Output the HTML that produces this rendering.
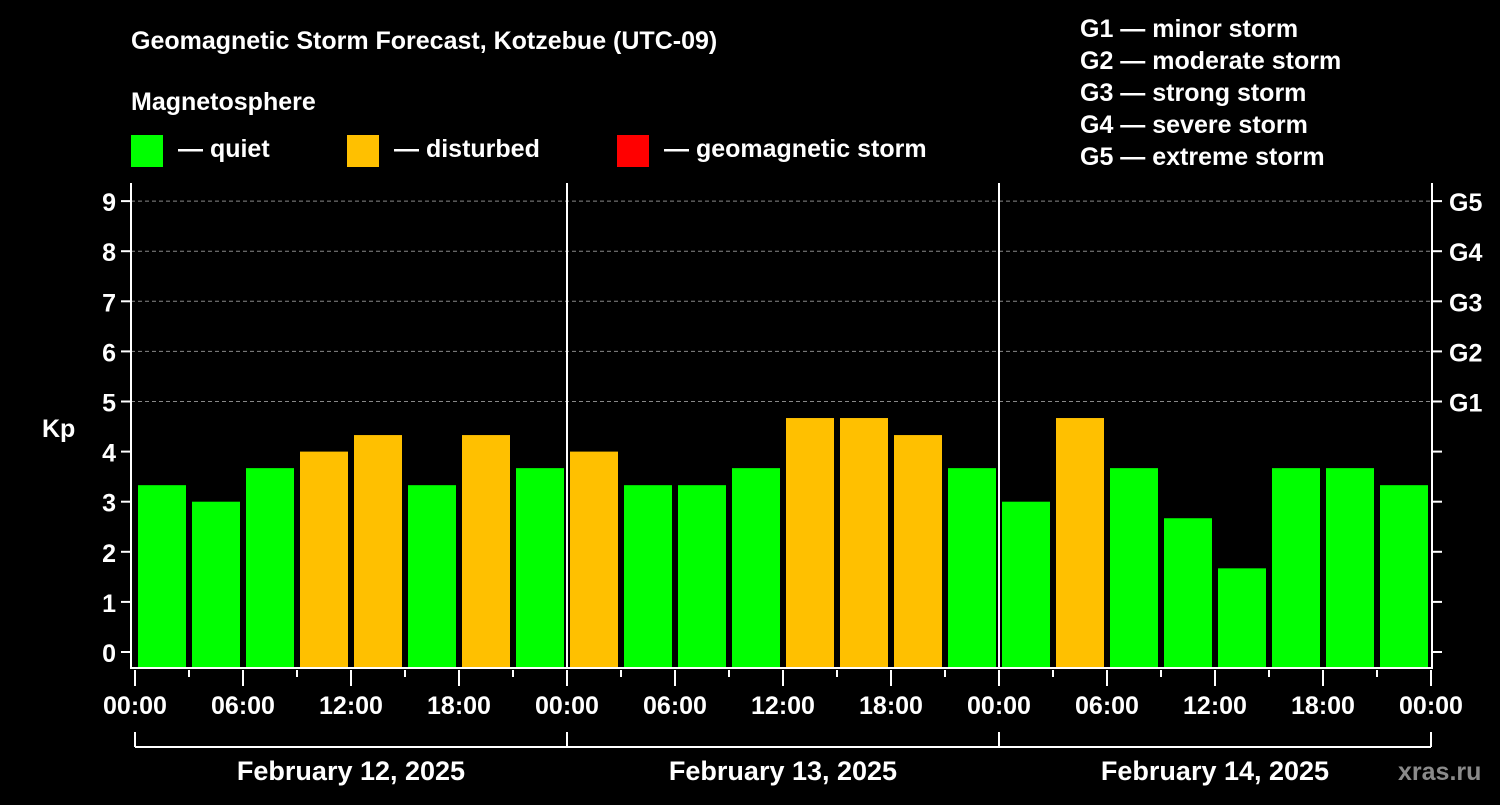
<!DOCTYPE html>
<html><head><meta charset="utf-8"><style>
body{margin:0;background:#000;width:1500px;height:800px;overflow:hidden;font-family:"Liberation Sans",sans-serif}
svg text{font-family:"Liberation Sans",sans-serif;font-weight:bold;fill:#fff}
</style></head><body>
<svg id="c" width="1500" height="800">
<text x="131" y="49" font-size="25">Geomagnetic Storm Forecast, Kotzebue (UTC-09)</text>
<text x="131" y="110" font-size="25">Magnetosphere</text>
<g><rect x="131" y="135" width="32" height="32" fill="#00ff00"/><text x="178" y="157" font-size="25">— quiet</text></g>
<g><rect x="347" y="135" width="32" height="32" fill="#ffc000"/><text x="394" y="157" font-size="25">— disturbed</text></g>
<g><rect x="617" y="135" width="32" height="32" fill="#ff0000"/><text x="664" y="157" font-size="25">— geomagnetic storm</text></g>
<g font-size="25">
<text x="1080" y="37">G1 — minor storm</text>
<text x="1080" y="69">G2 — moderate storm</text>
<text x="1080" y="101">G3 — strong storm</text>
<text x="1080" y="133">G4 — severe storm</text>
<text x="1080" y="165">G5 — extreme storm</text>
</g>
<text x="42" y="437" font-size="25">Kp</text>
<text x="1398" y="780" font-size="25" fill="#888" style="fill:#8a8a8a">xras.ru</text>
<g id="g"></g>
</svg>
<script>
const kpValues=[3.33,3.0,3.67,4.0,4.33,3.33,4.33,3.67, 4.0,3.33,3.33,3.67,4.67,4.67,4.33,3.67, 3.0,4.67,3.67,2.67,1.67,3.67,3.67,3.33];
const yTicks=[0,1,2,3,4,5,6,7,8,9];
const gLabels=["G1","G2","G3","G4","G5"];
const xLabels=["00:00","06:00","12:00","18:00","00:00","06:00","12:00","18:00","00:00","06:00","12:00","18:00","00:00"];
const dayLabels=["February 12, 2025","February 13, 2025","February 14, 2025"];
const NS="http://www.w3.org/2000/svg";
const g=document.getElementById('g');
const X0=135,PX_H=18,Y0=652,PX_K=50.1,TOP=183,BOT=668,L=131,R=1432;
const xs=h=>X0+h*PX_H, ys=k=>Y0-k*PX_K;
function mk(t,a,p){const e=document.createElementNS(NS,t);for(const k in a)e.setAttribute(k,a[k]);(p||g).appendChild(e);return e;}
kpValues.forEach((v,i)=>{
 const r=mk('rect',{x:xs(i*3)+3,y:ys(v),width:48,height:BOT-1-ys(v),fill:v>=5?'#ff0000':(v>=4?'#ffc000':'#00ff00')});
 
 
});
yTicks.forEach(k=>{
 const y=ys(k);
 if(k>=5){const l=mk('line',{x1:L,x2:R,y1:y,y2:y,stroke:'#888','stroke-dasharray':'4,3','stroke-width':1});
 
 }
 mk('line',{x1:L-10,x2:L,y1:y,y2:y,stroke:'#fff','stroke-width':2});
 mk('line',{x1:R,x2:R+10,y1:y,y2:y,stroke:'#fff','stroke-width':2});
 const t=mk('text',{x:L-15,y:y+10,'font-size':25,'text-anchor':'end'});t.textContent=k;
 
 
 if(k>=5){const s=mk('text',{x:R+17,y:y+10,'font-size':25});s.textContent=gLabels[k-5];
 
 }
});
mk('polyline',{points:`${L},${TOP} ${L},${BOT} ${R},${BOT} ${R},${TOP}`,fill:'none',stroke:'#fff','stroke-width':2});
[1,2].forEach(d=>mk('line',{x1:xs(d*24),x2:xs(d*24),y1:TOP,y2:BOT,stroke:'#fff','stroke-width':2}));
for(let h=0;h<=72;h+=3){const maj=h%6==0;mk('line',{x1:xs(h),x2:xs(h),y1:BOT+2,y2:maj?BOT+18:BOT+9,stroke:'#fff','stroke-width':2});}
xLabels.forEach((s,i)=>{const t=mk('text',{x:xs(i*6),y:714,'font-size':25,'text-anchor':'middle'});t.textContent=s;
 
 });
mk('line',{x1:xs(0),x2:xs(72),y1:747,y2:747,stroke:'#fff','stroke-width':2});
[0,1,2,3].forEach(d=>mk('line',{x1:xs(d*24),x2:xs(d*24),y1:732,y2:747,stroke:'#fff','stroke-width':2}));
dayLabels.forEach((s,i)=>{const t=mk('text',{x:xs(i*24+12),y:780,'font-size':27,'text-anchor':'middle'});t.textContent=s;
 
 });
</script>
</body></html>
